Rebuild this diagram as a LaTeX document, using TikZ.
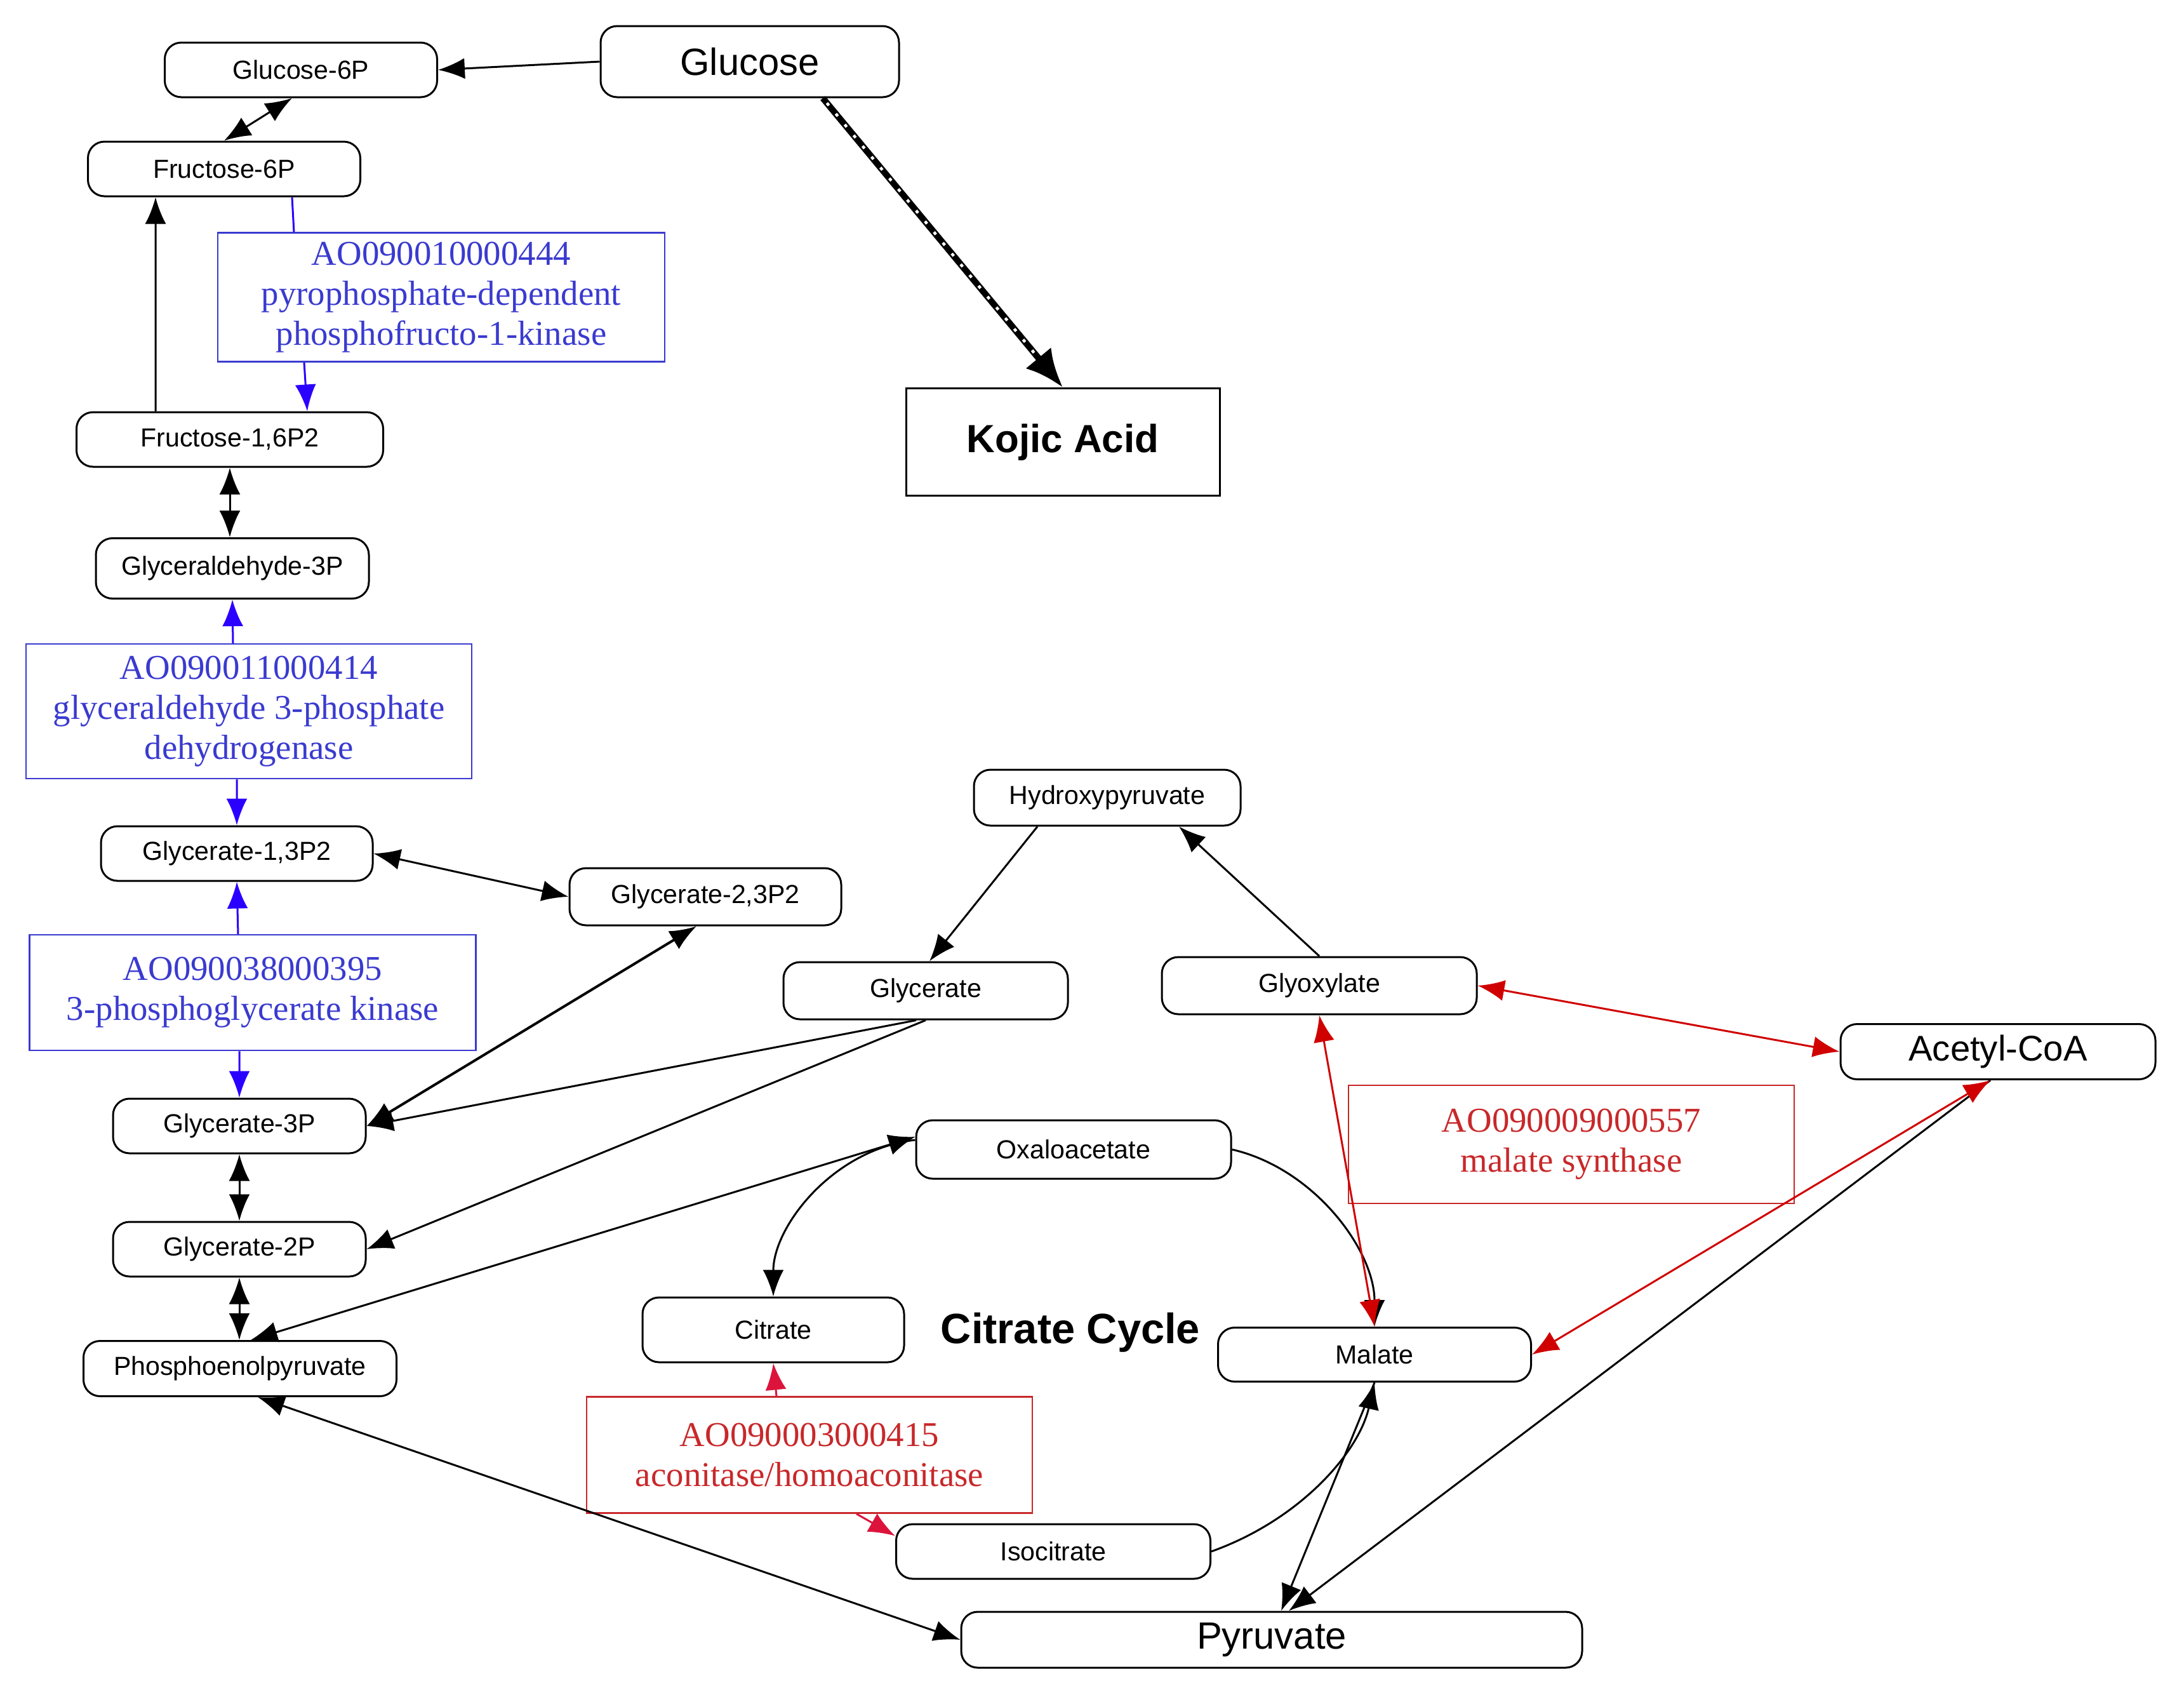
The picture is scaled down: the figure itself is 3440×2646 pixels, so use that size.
\documentclass[tikz,border=0pt]{standalone}
\usepackage{fontspec}
\setmainfont{Liberation Serif}
\setsansfont{Liberation Sans}
\usetikzlibrary{arrows.meta}
\definecolor{enzblue}{HTML}{3A3AD0}
\definecolor{arrblue}{HTML}{2A00FF}
\definecolor{enzred}{HTML}{C8282A}
\definecolor{arrred}{HTML}{D00000}
\definecolor{crimson}{HTML}{DC143C}

\begin{document}
\begin{tikzpicture}[x=0.1mm,y=-0.1mm,
		met/.style={draw, line width=0.3mm, rounded corners=2.6mm, minimum height=8.6mm, inner sep=0, font=\sffamily\fontsize{11.7}{14}\selectfont},
		bigmet/.style={met, font=\sffamily\fontsize{17}{20}\selectfont},
		enzb/.style={draw=enzblue, text=enzblue, line width=0.25mm, align=center, inner sep=0, font=\rmfamily\fontsize{15.6}{17.9}\selectfont},
		enzr/.style={enzb, draw=enzred, text=enzred},
		rx/.style={line width=0.3mm, >={Latex[length=4.2mm,width=3.3mm]}},
		bl/.style={rx, arrblue},
		rd/.style={rx, arrred},
		kojarr/.style={line width=1mm, -{Latex[length=6mm,width=5.2mm]}, postaction={draw=white, -, line width=0.45mm, dash pattern=on 0.5mm off 1.7mm, shorten >=6.5mm, shorten <=1mm}}]
		\useasboundingbox (0,0) rectangle (3440,2646);
		\node[bigmet, minimum width=47mm, minimum height=11.2mm] (glc) at (1181,97) {Glucose};
		\node[met, minimum width=42.9mm] (g6p) at (474,110) {Glucose-6P};
		\node[met, minimum width=42.9mm] (f6p) at (353,266) {Fructose-6P};
		\node[met, minimum width=48.3mm] (f16) at (362,692) {Fructose-1,6P2};
		\node[met, minimum width=43mm, minimum height=9.5mm] (gap) at (366,895) {Glyceraldehyde-3P};
		\node[met, minimum width=42.8mm] (g13) at (373,1344) {Glycerate-1,3P2};
		\node[met, minimum width=42.8mm, minimum height=9mm] (g23) at (1111,1412) {Glycerate-2,3P2};
		\node[met, minimum width=39.8mm] (g3p) at (377,1773) {Glycerate-3P};
		\node[met, minimum width=39.8mm] (g2p) at (377,1967) {Glycerate-2P};
		\node[met, minimum width=49.3mm, minimum height=8.7mm] (pep) at (378,2155) {Phosphoenolpyruvate};
		\node[draw, line width=0.3mm, minimum width=49.4mm, minimum height=16.9mm, font=\sffamily\bfseries\fontsize{17.6}{20}\selectfont] (koj) at (1674,696) {Kojic Acid};
		\node[met, minimum width=42mm, minimum height=8.8mm] (hpyr) at (1744,1256) {Hydroxypyruvate};
		\node[met, minimum width=44.8mm, minimum height=9mm] (glyc) at (1458,1560) {Glycerate};
		\node[met, minimum width=49.6mm, minimum height=9mm] (glx) at (2078,1552) {Glyoxylate};
		\node[bigmet, minimum width=49.6mm, minimum height=8.7mm, font=\sffamily\fontsize{16}{19}\selectfont] (accoa) at (3147,1656) {Acetyl-CoA};
		\node[met, minimum width=49.6mm, minimum height=9.2mm] (oaa) at (1691,1810) {Oxaloacetate};
		\node[met, minimum width=41.2mm, minimum height=10.2mm] (cit) at (1218,2094) {Citrate};
		\node[font=\sffamily\bfseries\fontsize{19}{22}\selectfont] (cyc) at (1686,2098) {Citrate Cycle};
		\node[met, minimum width=49.3mm, minimum height=8.5mm] (mal) at (2165,2133) {Malate};
		\node[met, minimum width=49.5mm] (icit) at (1659,2443) {Isocitrate};
		\node[bigmet, minimum width=97.8mm, minimum height=8.8mm] (pyr) at (2003,2582) {Pyruvate};
		\node[enzb, minimum width=70.4mm, minimum height=20.3mm] (e1) at (695,468) {AO090010000444\\pyrophosphate-dependent\\phosphofructo-1-kinase};
		\node[enzb, minimum width=70.2mm, minimum height=21.2mm] (e2) at (392,1120) {AO090011000414\\glyceraldehyde 3-phosphate\\dehydrogenase};
		\node[enzb, minimum width=70.3mm, minimum height=18.2mm] (e3) at (398,1563) {AO090038000395\\3-phosphoglycerate kinase};
		\node[enzr, minimum width=70.2mm, minimum height=18.3mm] (e4) at (1275,2291) {AO090003000415\\aconitase/homoaconitase};
		\node[enzr, minimum width=70.2mm, minimum height=18.6mm] (e5) at (2475,1802) {AO090009000557\\malate synthase};
		\draw[rx,->] (glc.west) -- (g6p.east);
		\draw[kojarr] ([xshift=11.5mm]glc.south) -- (koj.north);
		\draw[rx,<->] ([xshift=-1.4mm]g6p.south) -- (f6p.north);
		\draw[rx,->] ([xshift=-11.7mm]f16.north) -- ([xshift=-10.8mm]f6p.south);
		\draw[bl] ([xshift=10.7mm]f6p.south) -- ([xshift=-23.2mm]e1.north);
		\draw[bl,->] ([xshift=-21.6mm]e1.south) -- ([xshift=12.2mm]f16.north);
		\draw[rx,<->] (f16.south) -- (f16.south |- gap.north);
		\draw[bl,->] ([xshift=-2.5mm]e2.north) -- (gap.south);
		\draw[bl,->] ([xshift=-1.9mm]e2.south) -- (g13.north);
		\draw[bl,->] ([xshift=-2.3mm]e3.north) -- (g13.south);
		\draw[bl,->] ([xshift=-2.1mm]e3.south) -- (g3p.north);
		\draw[rx,<->] (g13.east) -- (g23.west);
		\draw[rx,<->,line width=0.4mm] (g3p.east) -- ([xshift=-1.4mm]g23.south);
		\draw[rx,->] ([xshift=-1.5mm]glyc.south) -- (g3p.east);
		\draw[rx,->] (glyc.south) -- (g2p.east);
		\draw[rx,->] ([xshift=-11mm]hpyr.south) -- ([xshift=0.6mm]glyc.north);
		\draw[rx,->] (glx.north) -- ([xshift=11.3mm]hpyr.south);
		\draw[rx,<->] (g3p.south) -- (g2p.north);
		\draw[rx,<->] (g2p.south) -- (g2p.south |- pep.north);
		\draw[rx,<->] ([xshift=1.7mm]pep.north) -- ([yshift=2mm]oaa.west);
		\draw[rx,->] ([yshift=1.5mm]oaa.west) .. controls +(-130,15) and +(0,-110) .. (cit.north);
		\draw[rx,->] (oaa.east) .. controls +(130,30) and +(0,-120) .. (mal.north);
		\draw[rx,->] (icit.east) .. controls +(140,-50) and +(-25,110) .. (mal.south);
		\draw[rx,->] (mal.south) -- ([xshift=1.5mm]pyr.north);
		\draw[rx,->] ([xshift=-1.2mm]accoa.south) -- ([xshift=2.7mm]pyr.north);
		\draw[rx,<->] ([xshift=2.8mm]pep.south) -- (pyr.west);
		\draw[rx,crimson,->] ([xshift=-5.2mm]e4.north) -- (cit.south);
		\draw[rx,crimson,->] ([xshift=7.4mm]e4.south) -- ([yshift=-2mm]icit.north west);
		\draw[rd,<->] (glx.east) -- (accoa.west);
		\draw[rd,<->] (glx.south) -- (mal.north);
		\draw[rd,<->] ([xshift=-1.2mm]accoa.south) -- (mal.east);
	\end{tikzpicture}
\end{document}
